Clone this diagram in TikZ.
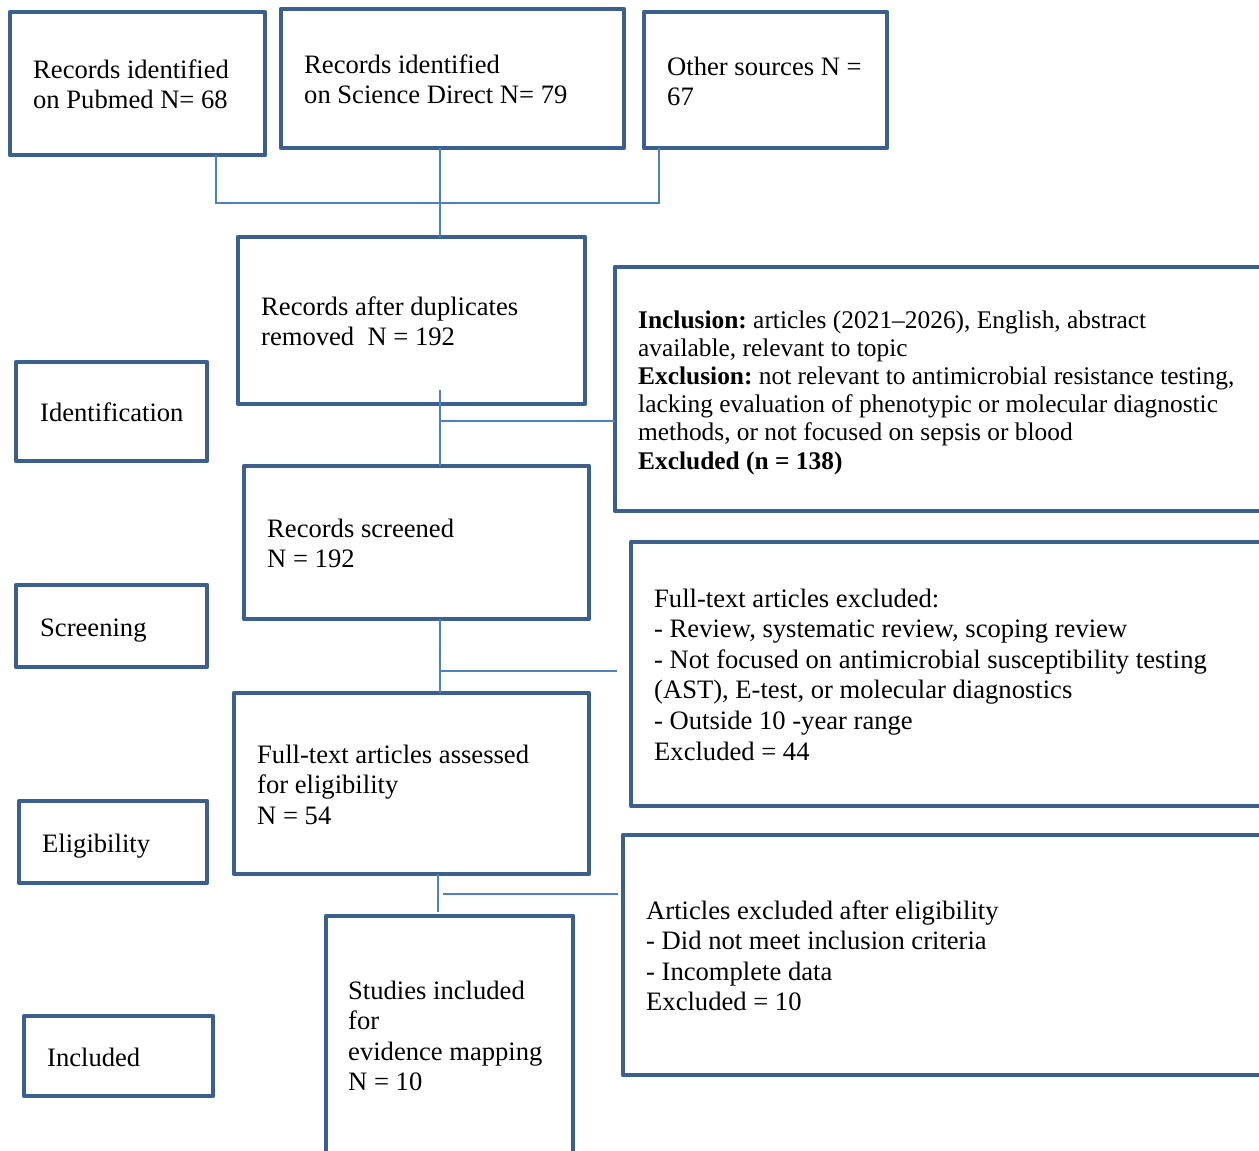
\documentclass[tikz,border=0pt]{standalone}
\usepackage{fontspec}
\setmainfont{Liberation Serif}
\frenchspacing
\definecolor{boxblue}{RGB}{60,96,142}
\definecolor{lineblue}{RGB}{79,129,189}
\newcommand\mlines[1]{\begin{tabular}[t]{@{}l@{}}#1\end{tabular}}
\begin{document}
\begin{tikzpicture}[x=1pt,y=-1pt,
  box/.style={draw=boxblue, line width=4.5pt, line join=round, rectangle, inner sep=0pt, outer sep=0pt, anchor=north west},
  conn/.style={draw=lineblue, line width=2pt},
  txt/.style={inner sep=0pt, anchor=base west, font=\fontsize{26.6}{30.6}\selectfont},
  txtc/.style={inner sep=0pt, anchor=base west, font=\fontsize{25.4}{28.2}\selectfont}]
\useasboundingbox (0,0) rectangle (1259,1151);
\clip (0,0) rectangle (1259,1151);

% source boxes
\node[box, minimum width=255pt, minimum height=143pt] (pub) at (10,12) {};
\node[box, minimum width=343pt, minimum height=139pt] (sd) at (281,9) {};
\node[box, minimum width=243pt, minimum height=136pt] (oth) at (644,12) {};
% flow boxes
\node[box, minimum width=347pt, minimum height=167pt] (dup) at (238,237) {};
\node[box, minimum width=345pt, minimum height=153pt] (scr) at (244,466) {};
\node[box, minimum width=355pt, minimum height=181pt] (fta) at (234,693) {};
\node[box, minimum width=247pt, minimum height=260pt] (stu) at (326,916) {};
% exclusion boxes
\node[box, minimum width=670pt, minimum height=244pt] (incl) at (615,267) {};
\node[box, minimum width=650pt, minimum height=264pt] (ftx) at (631,542) {};
\node[box, minimum width=660pt, minimum height=240pt] (aex) at (623,835) {};
% stage boxes
\node[box, minimum width=191pt, minimum height=99pt] (ident) at (16,362) {};
\node[box, minimum width=191pt, minimum height=82pt] (screen) at (16,585) {};
\node[box, minimum width=188pt, minimum height=82pt] (elig) at (19,801) {};
\node[box, minimum width=189pt, minimum height=80pt] (inc) at (24,1016) {};

% texts
\node[txt] (pubt) at (33,78) {\mlines{Records identified\\on Pubmed N= 68}};
\node[txt] (sdt) at (304,73) {\mlines{Records identified\\on Science Direct N= 79}};
\node[txt] (otht) at (667,75) {\mlines{Other sources N =\\67}};
\node[txt] (dupt) at (261,315) {\mlines{Records after duplicates\\removed\ \ N = 192}};
\node[txtc] (inclt) at (638,328) {\mlines{\textbf{Inclusion:} articles (2021–2026), English, abstract\\available, relevant to topic\\\textbf{Exclusion:} not relevant to antimicrobial resistance testing,\\lacking evaluation of phenotypic or molecular diagnostic\\methods, or not focused on sepsis or blood\\\textbf{Excluded (n = 138)}}};
\node[txt] (scrt) at (267,537) {\mlines{Records screened\\N = 192}};
\node[txt] (ftxt) at (654,607) {\mlines{Full-text articles excluded:\\- Review, systematic review, scoping review\\- Not focused on antimicrobial susceptibility testing\\(AST), E-test, or molecular diagnostics\\- Outside 10 -year range\\Excluded = 44}};
\node[txt] (ftat) at (257,763) {\mlines{Full-text articles assessed\\for eligibility\\N = 54}};
\node[txt] (stut) at (348,999) {\mlines{Studies included\\for\\evidence mapping\\N = 10}};
\node[txt] (aext) at (646,919) {\mlines{Articles excluded after eligibility\\- Did not meet inclusion criteria\\- Incomplete data\\Excluded = 10}};
\node[txt] (identt) at (40,421) {Identification};
\node[txt] (screent) at (40,636) {Screening};
\node[txt] (eligt) at (42,852) {Eligibility};
\node[txt] (inct) at (47,1066) {Included};

% connectors
\coordinate (j1) at (216,203);
\coordinate (j2) at (440,203);
\coordinate (j3) at (659,203);
\draw[conn] (pub.south -| j1) -- (j1) -- (j3) -- (oth.south -| j3);
\draw[conn] (sd.south -| j2) -- (dup.north -| j2);

\coordinate (j4) at (440,421);
\coordinate (s4) at (440,390);
\draw[conn] (s4) -- (scr.north -| j4);
\draw[conn] (j4) -- (incl.west |- j4);

\coordinate (j5) at (440,671);
\coordinate (e5) at (617,671);
\draw[conn] (scr.south -| j5) -- (fta.north -| j5);
\draw[conn] (j5) -- (e5);

\coordinate (s6) at (438,912);
\coordinate (h6a) at (443,894);
\coordinate (h6b) at (618,894);
\draw[conn] (fta.south -| s6) -- (s6);
\draw[conn] (h6a) -- (h6b);
\end{tikzpicture}
\end{document}
